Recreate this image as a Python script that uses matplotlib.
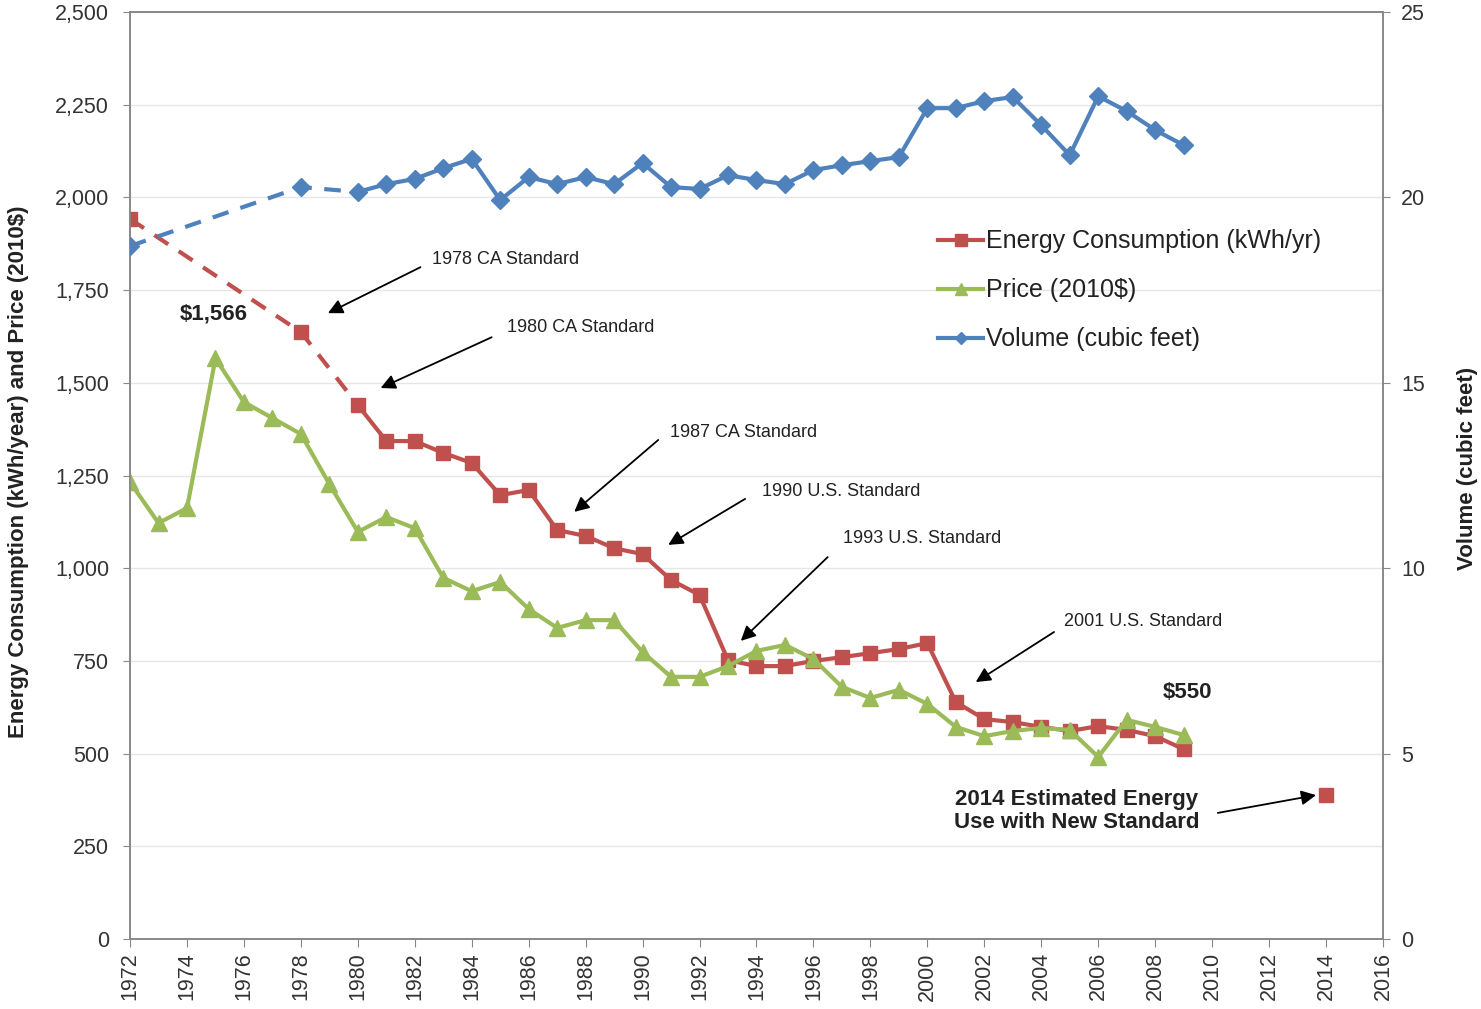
import numpy as np
import matplotlib
matplotlib.use("Agg")
import matplotlib.pyplot as plt
from matplotlib.lines import Line2D

plt.rcParams['font.family'] = ['Liberation Sans', 'DejaVu Sans']

# ---------------------------------------------------------------
# data
# ---------------------------------------------------------------
energy_est_years = [1972, 1978, 1980]
energy_est = [1942, 1637, 1440]
energy_years = list(range(1980, 2010))
energy = [1440, 1343, 1343, 1311, 1284, 1197, 1211, 1103, 1087, 1054,
          1038, 968, 928, 752, 736, 736, 750, 760, 771, 782,
          798, 639, 593, 585, 572, 561, 574, 564, 547, 512]
energy_2014_year = [2014]
energy_2014 = [388]

price_years = list(range(1972, 2010))
price = [1232, 1122, 1162, 1566, 1448, 1405, 1362, 1227, 1098, 1138,
         1108, 974, 938, 963, 890, 839, 860, 860, 774, 707,
         707, 736, 777, 793, 755, 680, 650, 672, 634, 572,
         547, 561, 569, 564, 491, 591, 572, 550]

volume_est_years = [1972, 1978, 1980]
volume_est = [18.69, 20.28, 20.15]
volume_years = list(range(1980, 2010))
volume = [20.15, 20.36, 20.50, 20.79, 21.04, 19.93, 20.55, 20.36, 20.55, 20.36,
          20.93, 20.28, 20.23, 20.60, 20.47, 20.36, 20.74, 20.87, 20.98, 21.09,
          22.41, 22.41, 22.60, 22.71, 21.95, 21.14, 22.73, 22.33, 21.82, 21.41]

left_ticks = [0, 250, 500, 750, 1000, 1250, 1500, 1750, 2000, 2250, 2500]
right_ticks = [0, 5, 10, 15, 20, 25]
year_ticks = list(range(1972, 2017, 2))

# (label, text left/centre, arrow start, arrow tip) in left-axis data coords
standards = [
    ("1978 CA Standard", (1982.6, 1834), (1982.2, 1812), (1978.95, 1688)),
    ("1980 CA Standard", (1985.25, 1650), (1984.7, 1623), (1980.8, 1486)),
    ("1987 CA Standard", (1990.95, 1367), (1990.55, 1346), (1987.6, 1152)),
    ("1990 U.S. Standard", (1994.2, 1208), (1993.6, 1187), (1990.9, 1063)),
    ("1993 U.S. Standard", (1997.05, 1079), (1996.5, 1030), (1993.45, 804)),
    ("2001 U.S. Standard", (2004.8, 855), (2004.45, 828), (2001.7, 693)),
]

RED = '#C0504D'
GREEN = '#9BBB59'
BLUE = '#4F81BD'
AXC = '#888888'

fig = plt.figure(figsize=(14.81, 10.09), dpi=100)
ax = fig.add_axes([0.0878, 0.0694, 0.846, 0.9186])
ax2 = ax.twinx()

# ---- left axis series
ax.plot(energy_est_years, energy_est, color=RED, lw=3, ls=(0, (4, 3)), zorder=3)
ax.plot(energy_est_years[:2], energy_est[:2], ls='none', marker='s', ms=10,
        color=RED, zorder=4)
ax.plot(energy_years, energy, color=RED, lw=3, marker='s', ms=10, zorder=4)
ax.plot(energy_2014_year, energy_2014, ls='none', marker='s', ms=10, color=RED, zorder=4)
ax.plot(price_years, price, color=GREEN, lw=3, marker='^', ms=11, zorder=5)

# ---- right axis series
ax2.plot(volume_est_years, volume_est, color=BLUE, lw=3, ls=(0, (4, 3)), zorder=3)
ax2.plot(volume_est_years[:2], volume_est[:2], ls='none', marker='D', ms=9,
         color=BLUE, zorder=4)
ax2.plot(volume_years, volume, color=BLUE, lw=3, marker='D', ms=9, zorder=4)

ax.set_xlim(1972, 2016)
ax.set_ylim(0, 2500)
ax2.set_ylim(0, 25)
ax.set_yticks(left_ticks)
ax.set_yticklabels(['{:,}'.format(t) for t in left_ticks])
ax2.set_yticks(right_ticks)
ax.set_xticks(year_ticks)
ax.set_xticklabels([str(y) for y in year_ticks], rotation=90)

ax.grid(axis='y', color='#e6e6e6', lw=1)
ax.set_axisbelow(True)
for a in (ax, ax2):
    for s in a.spines.values():
        s.set_color(AXC)
        s.set_linewidth(1.2)
ax.tick_params(axis='both', labelsize=15.5, color=AXC, length=5, labelcolor='#333333')
ax.tick_params(axis='y', pad=10)
ax2.tick_params(axis='y', labelsize=15.5, color=AXC, length=5, labelcolor='#333333', pad=8)
ax.tick_params(axis='x', length=6)

# axis titles placed where the reference has them
fig.text(19 / 1481, 1 - 472 / 1009, 'Energy Consumption (kWh/year) and Price (2010$)',
         rotation=90, fontsize=16, fontweight='bold', ha='center', va='center',
         color='#222222')
fig.text(1468 / 1481, 1 - 468 / 1009, 'Volume (cubic feet)', rotation=90,
         fontsize=16, fontweight='bold', ha='center', va='center', color='#222222')

# ---- annotations
arrow_kw = dict(arrowstyle='-|>', color='black', lw=1.3, mutation_scale=22,
                shrinkA=0, shrinkB=0)
for label, txt, start, tip in standards:
    ax.text(txt[0], txt[1], label, fontsize=13, color='#222222',
            ha='left', va='center')
    ax.annotate('', xy=tip, xytext=start, arrowprops=arrow_kw)

ax.text(1974.95, 1686, '$1,566', fontsize=16, fontweight='bold', ha='center',
        va='center', color='#222222')
ax.text(2009.15, 666, '$550', fontsize=16, fontweight='bold', ha='center',
        va='center', color='#222222')
ax.text(2005.25, 345, '2014 Estimated Energy\nUse with New Standard', fontsize=16,
        fontweight='bold', ha='center', va='center', color='#222222',
        linespacing=1.15)
ax.annotate('', xy=(2013.65, 388), xytext=(2010.2, 340), arrowprops=arrow_kw)

# ---- legend
handles = [
    Line2D([], [], color=RED, lw=3, marker='s', ms=8),
    Line2D([], [], color=GREEN, lw=3, marker='^', ms=8),
    Line2D([], [], color=BLUE, lw=3, marker='D', ms=6),
]
labels = ['Energy Consumption (kWh/yr)', 'Price (2010$)', 'Volume (cubic feet)']
ax2.legend(handles, labels, loc='upper left', bbox_to_anchor=(0.627, 0.79),
           frameon=False, fontsize=18, handlelength=1.8, handletextpad=0.1,
           labelspacing=1.0, labelcolor='#222222')

fig.savefig('out.png', dpi=100)
